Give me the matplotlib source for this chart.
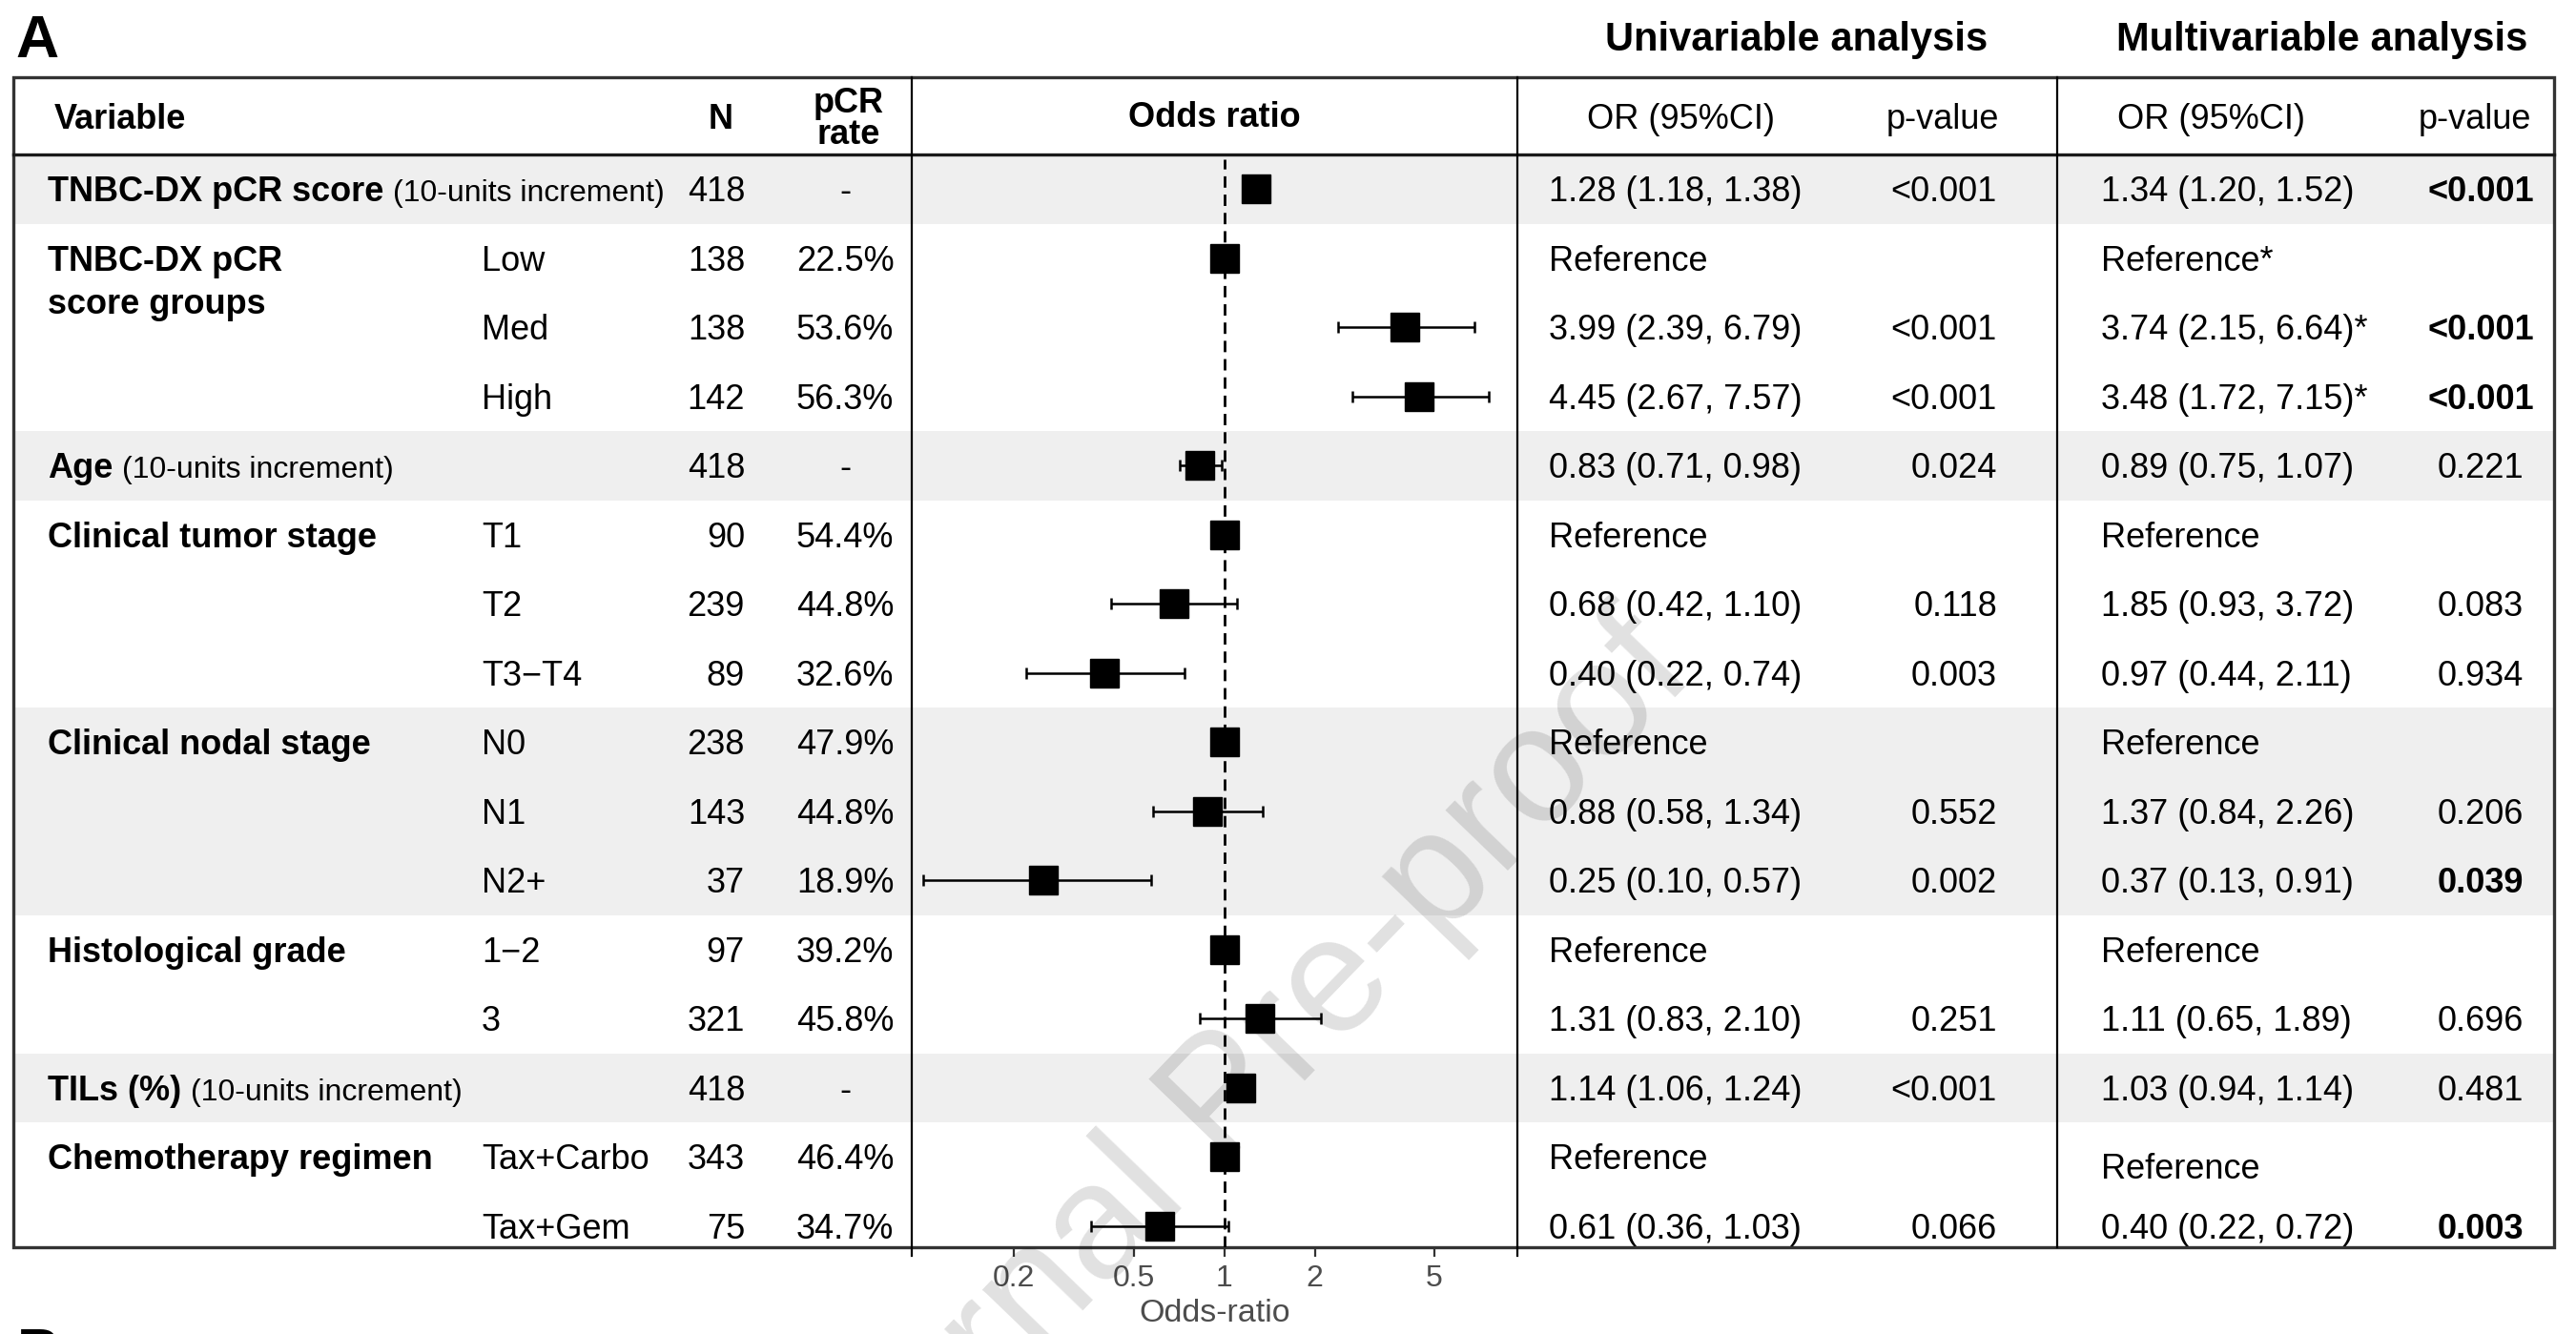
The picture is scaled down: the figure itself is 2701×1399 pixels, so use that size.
import numpy as np
import matplotlib.pyplot as plt
from matplotlib.patches import Rectangle
from matplotlib.ticker import NullLocator

plt.rcParams['font.family'] = ['Liberation Sans', 'DejaVu Sans']

# variables (one entry per group of rows)
var_labels = ["TNBC-DX pCR score", "TNBC-DX pCR\nscore groups", "Age", "Clinical tumor stage",
              "Clinical nodal stage", "Histological grade", "TILs (%)", "Chemotherapy regimen"]
var_notes = ["(10-units increment)", "", "(10-units increment)", "", "", "", "(10-units increment)", ""]
group_sizes = [1, 3, 1, 3, 3, 2, 1, 2]

# one entry per row
levels = ["", "Low", "Med", "High", "", "T1", "T2", "T3\u2212T4", "N0", "N1", "N2+",
          "1\u22122", "3", "", "Tax+Carbo", "Tax+Gem"]
n_pat = [418, 138, 138, 142, 418, 90, 239, 89, 238, 143, 37, 97, 321, 418, 343, 75]
pcr_rate = ["-", "22.5%", "53.6%", "56.3%", "-", "54.4%", "44.8%", "32.6%", "47.9%", "44.8%",
            "18.9%", "39.2%", "45.8%", "-", "46.4%", "34.7%"]
is_ref = [False, True, False, False, False, True, False, False, True, False, False,
          True, False, False, True, False]

uni_or = [1.28, 1, 3.99, 4.45, 0.83, 1, 0.68, 0.40, 1, 0.88, 0.25, 1, 1.31, 1.14, 1, 0.61]
uni_lo = [1.18, 1, 2.39, 2.67, 0.71, 1, 0.42, 0.22, 1, 0.58, 0.10, 1, 0.83, 1.06, 1, 0.36]
uni_hi = [1.38, 1, 6.79, 7.57, 0.98, 1, 1.10, 0.74, 1, 1.34, 0.57, 1, 2.10, 1.24, 1, 1.03]
uni_p = ["<0.001", "", "<0.001", "<0.001", "0.024", "", "0.118", "0.003", "", "0.552", "0.002",
         "", "0.251", "<0.001", "", "0.066"]

multi_or = [1.34, 1, 3.74, 3.48, 0.89, 1, 1.85, 0.97, 1, 1.37, 0.37, 1, 1.11, 1.03, 1, 0.40]
multi_lo = [1.20, 1, 2.15, 1.72, 0.75, 1, 0.93, 0.44, 1, 0.84, 0.13, 1, 0.65, 0.94, 1, 0.22]
multi_hi = [1.52, 1, 6.64, 7.15, 1.07, 1, 3.72, 2.11, 1, 2.26, 0.91, 1, 1.89, 1.14, 1, 0.72]
multi_star = [False, True, True, True] + [False] * 12
multi_p = ["<0.001", "", "<0.001", "<0.001", "0.221", "", "0.083", "0.934", "", "0.206", "0.039",
           "", "0.696", "0.481", "", "0.003"]

x_ticks = [0.2, 0.5, 1, 2, 5]
x_tick_labels = ["0.2", "0.5", "1", "2", "5"]


def or_text(o, lo, hi, ref, star=False):
    s = "Reference" if ref else f"{o:.2f} ({lo:.2f}, {hi:.2f})"
    return s + ("*" if star else "")


def p_value(s):
    return float(s.lstrip("<")) if s else 1.0


W, H = 2701, 1399
fig = plt.figure(figsize=(W / 100, H / 100), dpi=100)
tab = fig.add_axes([0, 0, 1, 1])
tab.set_xlim(0, W)
tab.set_ylim(H, 0)
tab.axis('off')
renderer = fig.canvas.get_renderer()

TOP, HEAD, BOT = 81, 162, 1308
LEFT, RIGHT = 14, 2678
ROW_H = 72.5
FX0, FX1, XMID = 956, 1591, 2157
FS, FS_NOTE = 26, 23


def base(i):
    return HEAD + ROW_H * (i + 0.5) + 13


# shaded bands per variable group
starts = np.concatenate([[0], np.cumsum(group_sizes)[:-1]])
for g, (s, k) in enumerate(zip(starts, group_sizes)):
    if g % 2 == 0:
        y0 = HEAD + ROW_H * s
        y1 = min(BOT, HEAD + ROW_H * (s + k))
        tab.add_patch(Rectangle((LEFT, y0), RIGHT - LEFT, y1 - y0, color='#efefef', lw=0, zorder=0))

# variable labels
for g, s in enumerate(starts):
    lines = var_labels[g].split("\n")
    for j, line in enumerate(lines):
        t = tab.text(50, base(s) + 45 * j, line, fontsize=FS, fontweight='bold', va='baseline')
    if var_notes[g]:
        x1 = t.get_window_extent(renderer).x1
        tab.text(x1 + 10, base(s), var_notes[g], fontsize=FS_NOTE, va='baseline')

# nudges seen in the original layout
nudge_multi = {14: 10}

for i in range(len(levels)):
    yb = base(i)
    tab.text(505, yb, levels[i], fontsize=FS, va='baseline')
    tab.text(781, yb, str(n_pat[i]), fontsize=FS, va='baseline', ha='right')
    tab.text(886, yb, pcr_rate[i], fontsize=FS, va='baseline', ha='center')
    tab.text(1624, yb, or_text(uni_or[i], uni_lo[i], uni_hi[i], is_ref[i]), fontsize=FS, va='baseline')
    tab.text(2094, yb, uni_p[i], fontsize=FS, va='baseline', ha='right')
    tab.text(2203, yb + nudge_multi.get(i, 0),
             or_text(multi_or[i], multi_lo[i], multi_hi[i], is_ref[i], multi_star[i]),
             fontsize=FS, va='baseline')
    tab.text(2601, yb, multi_p[i], fontsize=FS, va='baseline', ha='center',
             fontweight='bold' if p_value(multi_p[i]) < 0.05 else 'normal')

# header
hb = 135
tab.text(57, hb, "Variable", fontsize=FS, fontweight='bold', va='baseline')
tab.text(756, hb, "N", fontsize=FS, fontweight='bold', va='baseline', ha='center')
tab.text(890, 118, "pCR", fontsize=FS, fontweight='bold', va='baseline', ha='center')
tab.text(890, 151, "rate", fontsize=FS, fontweight='bold', va='baseline', ha='center')
tab.text(1273, hb - 2, "Odds ratio", fontsize=FS, fontweight='bold', va='baseline', ha='center')
tab.text(1762, hb, "OR (95%CI)", fontsize=FS, va='baseline', ha='center')
tab.text(2037, hb, "p-value", fontsize=FS, va='baseline', ha='center')
tab.text(2318, hb, "OR (95%CI)", fontsize=FS, va='baseline', ha='center')
tab.text(2595, hb, "p-value", fontsize=FS, va='baseline', ha='center')

tab.text(1884, 53, "Univariable analysis", fontsize=30, fontweight='bold', va='baseline', ha='center')
tab.text(2435, 53, "Multivariable analysis", fontsize=30, fontweight='bold', va='baseline', ha='center')
tab.text(16, 60, "A", fontsize=45, fontweight='bold', va='baseline')
tab.text(18, 1437, "B", fontsize=45, fontweight='bold', va='baseline')

# grid lines
tab.add_patch(Rectangle((LEFT, TOP), RIGHT - LEFT, BOT - TOP, fill=False, lw=2.4, ec='#333333', zorder=5))
tab.plot([LEFT, RIGHT], [HEAD, HEAD], color='#1a1a1a', lw=2.4, zorder=5)
for xv, yend in [(FX0, 1317), (FX1, 1317), (XMID, BOT)]:
    tab.plot([xv, xv], [TOP, yend], color='black', lw=1.6, zorder=5)

# forest plot
fa = fig.add_axes([FX0 / W, (H - BOT) / H, (FX1 - FX0) / W, (BOT - HEAD) / H])
fa.set_facecolor('none')
fa.set_xscale('log')
fa.set_xlim(0.0916, 9.43)
fa.set_ylim((BOT - HEAD) / ROW_H, 0)
for sp in fa.spines.values():
    sp.set_visible(False)

ypos = np.arange(len(levels)) + 0.5
o = np.array(uni_or)
lo = np.array(uni_lo)
hi = np.array(uni_hi)
ci = ~np.array(is_ref)
fa.axvline(1, ymin=0, ymax=1 - 5 / (BOT - HEAD), color='black', lw=2, linestyle=(0, (4.3, 2.6)), zorder=1)
fa.errorbar(o[ci], ypos[ci], xerr=[o[ci] - lo[ci], hi[ci] - o[ci]], fmt='none',
            ecolor='black', elinewidth=1.8, capsize=4.5, capthick=1.8, zorder=2)
fa.plot(o, ypos, 's', color='black', markersize=22, zorder=3)

fa.set_yticks([])
fa.set_xticks(x_ticks)
fa.set_xticklabels(x_tick_labels)
fa.xaxis.set_minor_locator(NullLocator())
fa.tick_params(axis='x', length=7, width=1.6, color='#333333', labelsize=23,
               labelcolor='#4d4d4d', pad=6)
fa.set_xlabel("Odds-ratio", fontsize=24.5, color='#4d4d4d', labelpad=4)

# watermark, anchored at the start of its baseline
fig.text(855 / W, 1 - 1665 / H, "Journal Pre-proof", fontsize=124, rotation=46,
         ha='left', va='baseline', rotation_mode='anchor', color='black', alpha=0.12, zorder=10)

fig.savefig("out.png", dpi=100)
